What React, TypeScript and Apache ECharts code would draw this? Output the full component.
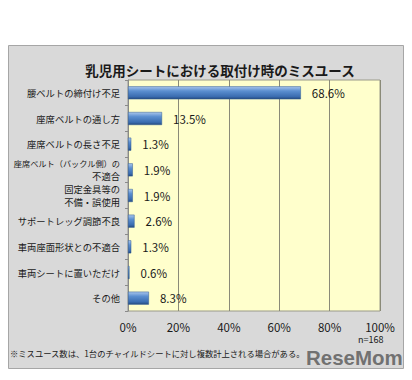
import React, { useEffect, useRef } from "react";
import * as echarts from "echarts";

const title = "乳児用シートにおける取付け時のミスユース";
const categories = [
  "腰ベルトの締付け不足",
  "座席ベルトの通し方",
  "座席ベルトの長さ不足",
  "座席ベルト（バックル側）の\n不適合",
  "固定金具等の\n不備・誤使用",
  "サポートレッグ調節不良",
  "車両座面形状との不適合",
  "車両シートに置いただけ",
  "その他",
];
const values = [68.6, 13.5, 1.3, 1.9, 1.9, 2.6, 1.3, 0.6, 8.3];
const footnote = "※ミスユース数は、1台のチャイルドシートに対し複数計上される場合がある。";
const nLabel = "n=168";
const watermark = "ReseMom";

const FONT = "'Noto Sans CJK JP', 'Noto Sans', sans-serif";

export default function App() {
  const ref = useRef<HTMLDivElement>(null);
  useEffect(() => {
    if (!ref.current) return;
    const chart = echarts.init(ref.current, undefined, { renderer: "svg" });
    chart.setOption({
      animation: false,
      backgroundColor: "#ffffff",
      textStyle: { fontFamily: FONT },
      title: {
        text: title,
        left: 215,
        textAlign: "center",
        top: 58,
        textStyle: { fontSize: 13.5, fontWeight: "bold", color: "#1a1a1a", fontFamily: FONT },
      },
      graphic: [
        {
          type: "rect",
          z: -10,
          shape: { x: 8.5, y: 45.5, width: 395, height: 323 },
          style: { fill: "#D9D9D9", stroke: "#A6A6A6", lineWidth: 1 },
        },
        {
          type: "text",
          x: 10,
          y: 349,
          style: { text: footnote, fontSize: 8.3, fill: "#1a1a1a", fontFamily: FONT },
        },
        {
          type: "text",
          x: 358,
          y: 335,
          style: { text: nLabel, fontSize: 9, fill: "#1a1a1a", fontFamily: FONT },
        },
        {
          type: "text",
          x: 306,
          y: 347,
          z: 20,
          style: {
            text: watermark,
            fontSize: 20.5,
            fontWeight: "bold",
            fill: "rgba(85,85,85,0.8)",
            fontFamily: "'Liberation Sans', sans-serif",
          },
        },
      ],
      grid: {
        left: 128,
        right: 32,
        top: 80,
        bottom: 69,
        show: true,
        backgroundColor: "#FFFFCC",
        borderColor: "#9a9a8a",
        borderWidth: 1,
      },
      xAxis: {
        type: "value",
        min: 0,
        max: 100,
        interval: 20,
        axisLabel: {
          formatter: "{value}%",
          fontSize: 11.5,
          color: "#1a1a1a",
          margin: 10,
          fontFamily: FONT,
        },
        axisLine: { show: false },
        axisTick: { show: false },
        splitLine: { show: true, lineStyle: { color: "#8a8a78", width: 1 } },
      },
      yAxis: {
        type: "category",
        data: categories,
        inverse: true,
        axisLabel: {
          fontSize: 9.3,
          color: "#1a1a1a",
          margin: 8,
          lineHeight: 13,
          fontFamily: FONT,
          formatter: (v: string) => {
            const lines = v.split("\n");
            return lines
              .map((l) => (l.length > 11 ? "{s|" + l + "}" : "{n|" + l + "}"))
              .join("\n");
          },
          rich: {
            n: { fontSize: 9.3, lineHeight: 13, color: "#1a1a1a", fontFamily: FONT },
            s: { fontSize: 8.2, lineHeight: 13, color: "#1a1a1a", fontFamily: FONT },
          },
        },
        axisLine: { show: true, lineStyle: { color: "#8a8a8a" } },
        axisTick: { show: true, length: 3, lineStyle: { color: "#8a8a8a" } },
      },
      series: [
        {
          type: "bar",
          data: values,
          barWidth: 13,
          itemStyle: {
            color: new echarts.graphic.LinearGradient(0, 0, 0, 1, [
              { offset: 0, color: "#a9c6ec" },
              { offset: 0.35, color: "#5b8fd0" },
              { offset: 0.8, color: "#3a6cb0" },
              { offset: 1, color: "#24497d" },
            ]),
            borderColor: "#2f5a94",
            borderWidth: 0.5,
          },
          label: {
            show: true,
            position: "right",
            distance: 11,
            fontSize: 11.5,
            color: "#1a1a1a",
            fontFamily: FONT,
            formatter: (p: any) => Number(p.value).toFixed(1) + "%",
          },
        },
      ],
    });
    return () => chart.dispose();
  }, []);
  return (
    <div
      ref={ref}
      style={{ position: "fixed", left: 0, top: 0, width: 412, height: 380 }}
    />
  );
}
